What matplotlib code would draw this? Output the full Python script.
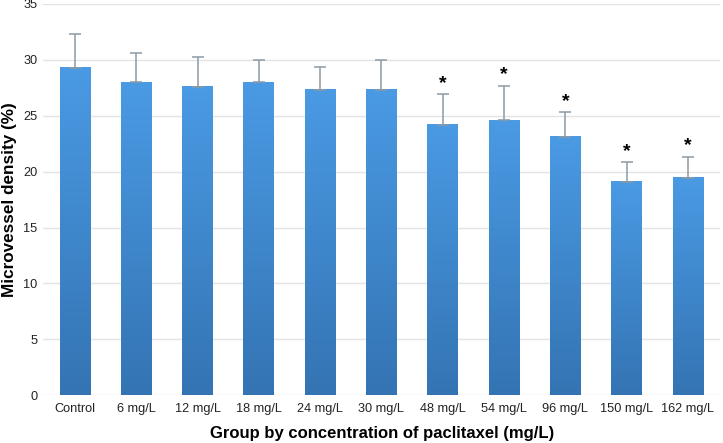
import numpy as np
import matplotlib
matplotlib.use("Agg")
import matplotlib.pyplot as plt
from matplotlib.colors import LinearSegmentedColormap

plt.rcParams["font.family"] = ["Liberation Sans", "DejaVu Sans"]

groups = ["Control", "6 mg/L", "12 mg/L", "18 mg/L", "24 mg/L", "30 mg/L",
          "48 mg/L", "54 mg/L", "96 mg/L", "150 mg/L", "162 mg/L"]
density = [29.3, 28.0, 27.6, 28.0, 27.3, 27.3, 24.2, 24.6, 23.1, 19.1, 19.45]
err_top = [32.3, 30.6, 30.3, 30.0, 29.4, 29.95, 26.95, 27.7, 25.3, 20.85, 21.35]
significant = [False, False, False, False, False, False, True, True, True, True, True]

errors = [t - v for t, v in zip(err_top, density)]
x = np.arange(len(groups))
width = 0.5

fig = plt.figure(figsize=(7.23, 4.43), dpi=100)
ax = fig.add_axes([0.0595, 0.108, 0.937, 0.883])

# vertical gradient fill, darker at the base
cmap = LinearSegmentedColormap.from_list("bar", ["#3474b3", "#4a9ae4"])
grad = np.linspace(0, 1, 256).reshape(-1, 1)
for xi, v in zip(x, density):
    ax.imshow(grad, cmap=cmap, origin="lower", aspect="auto",
              extent=[xi - width / 2, xi + width / 2, 0, v], zorder=2)

ax.errorbar(x, density, yerr=[np.zeros(len(x)), errors], fmt="none",
            ecolor="#8c9aa6", elinewidth=1.1, capsize=4, capthick=1.1, zorder=3)

for xi, t, s in zip(x, err_top, significant):
    if s:
        ax.text(xi, t + 0.2, "*", ha="center", va="bottom", fontsize=14,
                fontweight="bold", color="black")

ax.set_xlim(-0.52, len(groups) - 0.47)
ax.set_ylim(0, 35)
ax.set_yticks(range(0, 36, 5))
ax.set_xticks(x)
ax.set_xticklabels(groups)
ax.tick_params(axis="both", length=0, labelsize=9.2, colors="#222222")
ax.tick_params(axis="x", pad=6)
ax.tick_params(axis="y", pad=4)
ax.grid(axis="y", color="#e3e3e3", linewidth=1, zorder=0)
ax.set_axisbelow(True)
for sp in ax.spines.values():
    sp.set_visible(False)

ax.set_xlabel("Group by concentration of paclitaxel (mg/L)", fontsize=12,
              fontweight="bold", va="center")
ax.xaxis.set_label_coords(0.5, -0.097)
ax.set_ylabel("Microvessel density (%)", fontsize=12.3, fontweight="bold",
              va="center")
ax.yaxis.set_label_coords(-0.049, 0.5)

fig.savefig("out.png", dpi=100)
